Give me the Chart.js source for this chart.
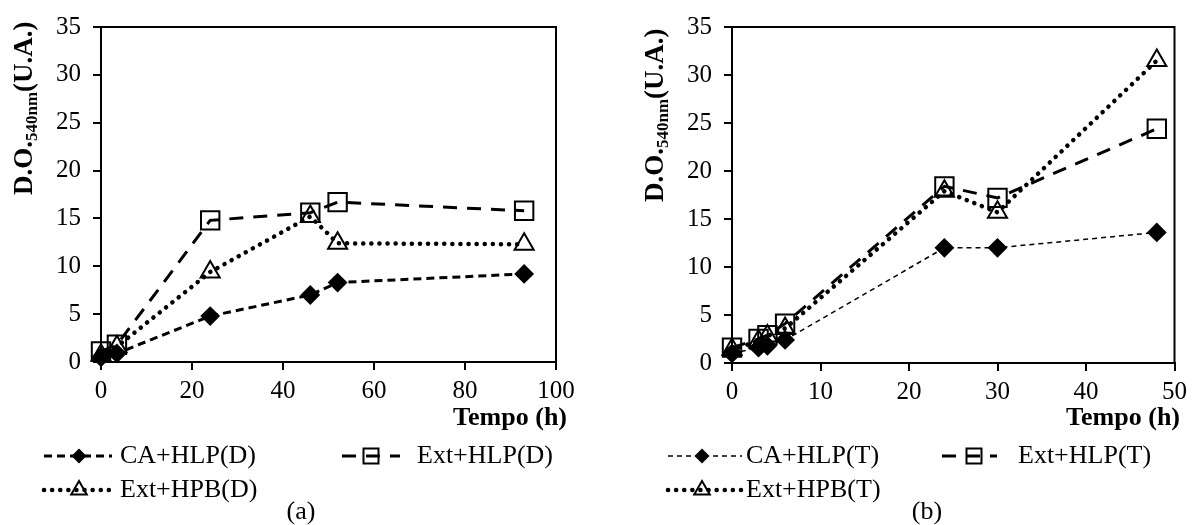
<!DOCTYPE html>
<html>
<head>
<meta charset="utf-8">
<script src="https://cdn.jsdelivr.net/npm/chart.js@4.4.1/dist/chart.umd.min.js"></script>
<style>
    html, body { margin: 0; padding: 0; background: #fff; }
    #wrap { position: relative; width: 1193px; height: 525px; }
    #chartA { position: absolute; left: 0; top: 0; }
    #chartB { position: absolute; left: 596px; top: 0; }
</style>
</head>
<body>
<div id="wrap">
    <canvas id="chartA" width="596" height="525"></canvas>
    <canvas id="chartB" width="597" height="525"></canvas>
</div>
<script>
// (a) tempo em horas e D.O. 540nm
const hoursA = [0, 3.5, 24, 46, 52, 93];
const caHlpD = [0.5, 0.9, 4.8, 7.0, 8.3, 9.2];
const extHlpD = [1.1, 1.8, 14.8, 15.6, 16.7, 15.8];
const extHpbD = [0.7, 1.6, 9.4, 15.2, 12.4, 12.3];

// (b)
const hoursB = [0, 3, 4, 6, 24, 30, 48];
const caHlpT = [1.0, 1.6, 1.8, 2.4, 12.0, 12.0, 13.6];
const extHlpT = [1.6, 2.5, 2.9, 4.1, 18.4, 17.2, 24.4];
const extHpbT = [1.4, 2.3, 2.8, 3.6, 17.9, 15.7, 31.5];

const yTicks = [0, 5, 10, 15, 20, 25, 30, 35];
const xTicksA = [0, 20, 40, 60, 80, 100];
const xTicksB = [0, 10, 20, 30, 40, 50];

const labelsA = ['CA+HLP(D)', 'Ext+HLP(D)', 'Ext+HPB(D)'];
const labelsB = ['CA+HLP(T)', 'Ext+HLP(T)', 'Ext+HPB(T)'];

const SERIF = '"Liberation Serif", "Times New Roman", serif';

function pts(xs, ys) {
    return xs.map((x, i) => ({ x: x, y: ys[i] }));
}

// line/marker look for each series
const look = {
    caD:  { dash: [8, 5], width: 3, cap: 'butt', marker: 'diamond' },
    caT:  { dash: [5, 4], width: 1.5, cap: 'butt', marker: 'diamond' },
    hlp:  { dash: [14, 10], width: 3, cap: 'butt', marker: 'square' },
    hpb:  { dash: [0.1, 8], width: 4.5, cap: 'round', marker: 'triangle' }
};

function dataset(label, data, lk) {
    const d = {
        label: label,
        data: data,
        borderColor: '#000',
        borderWidth: lk.width,
        borderDash: lk.dash,
        borderCapStyle: lk.cap,
        fill: false,
        tension: 0,
        clip: false,
        pointBorderColor: '#000',
        pointBorderWidth: 2
    };
    if (lk.marker === 'diamond') {
        d.pointStyle = 'rectRot';
        d.pointRadius = 8.5;
        d.pointBackgroundColor = '#000';
    } else if (lk.marker === 'square') {
        d.pointStyle = 'rect';
        d.pointRadius = 13;
        d.pointBackgroundColor = 'rgba(0,0,0,0)';
    } else {
        d.pointStyle = 'triangle';
        d.pointRadius = 11;
        d.pointBackgroundColor = 'rgba(0,0,0,0)';
    }
    return d;
}

function drawMarker(ctx, kind, x, y) {
    ctx.save();
    ctx.setLineDash([]);
    ctx.lineWidth = 2;
    ctx.strokeStyle = '#000';
    ctx.fillStyle = '#000';
    ctx.beginPath();
    if (kind === 'diamond') {
        const r = 7.5;
        ctx.moveTo(x - r, y); ctx.lineTo(x, y - r); ctx.lineTo(x + r, y); ctx.lineTo(x, y + r);
        ctx.closePath();
        ctx.fill();
    } else if (kind === 'square') {
        ctx.rect(x - 7.5, y - 7.5, 15, 15);
        ctx.stroke();
    } else {
        const r = 9;
        ctx.moveTo(x, y - r);
        ctx.lineTo(x + r * 0.866, y + r * 0.5);
        ctx.lineTo(x - r * 0.866, y + r * 0.5);
        ctx.closePath();
        ctx.stroke();
    }
    ctx.restore();
}

// box, axis titles, legend and caption
const deco = {
    id: 'deco',
    afterDraw(chart, args, o) {
        const ctx = chart.ctx;
        const a = chart.chartArea;
        ctx.save();
        ctx.strokeStyle = '#000';
        ctx.lineWidth = 2;
        ctx.beginPath();
        ctx.moveTo(a.left, a.top);
        ctx.lineTo(a.right, a.top);
        ctx.lineTo(a.right, a.bottom);
        ctx.stroke();

        // y title with subscript
        ctx.fillStyle = '#000';
        ctx.translate(o.yTitle.x, o.yTitle.y);
        ctx.rotate(-Math.PI / 2);
        ctx.textBaseline = 'alphabetic';
        ctx.textAlign = 'left';
        ctx.font = 'bold 27px ' + SERIF;
        ctx.fillText('D.O.', 0, 0);
        let w = ctx.measureText('D.O.').width;
        ctx.font = 'bold 17px ' + SERIF;
        ctx.fillText('540nm', w, 5);
        w += ctx.measureText('540nm').width;
        ctx.font = 'bold 27px ' + SERIF;
        ctx.fillText('(U.A.)', w, 0);
        ctx.restore();

        ctx.save();
        ctx.fillStyle = '#000';
        ctx.textBaseline = 'middle';
        ctx.textAlign = 'right';
        ctx.font = 'bold 26px ' + SERIF;
        ctx.fillText('Tempo (h)', o.xTitle.right, o.xTitle.y);

        ctx.textAlign = 'left';
        ctx.font = '26px ' + SERIF;
        o.legend.forEach(it => {
            ctx.save();
            ctx.strokeStyle = '#000';
            ctx.lineWidth = it.lk.width;
            ctx.lineCap = it.lk.cap;
            ctx.setLineDash(it.lk.dash);
            ctx.beginPath();
            ctx.moveTo(it.x1, it.y);
            ctx.lineTo(it.x2, it.y);
            ctx.stroke();
            ctx.restore();
            drawMarker(ctx, it.lk.marker, it.mx, it.y);
            ctx.fillText(it.text, it.tx, it.y);
        });

        ctx.textAlign = 'center';
        ctx.font = '26px ' + SERIF;
        ctx.fillText(o.caption.text, o.caption.x, o.caption.y);
        ctx.restore();
    }
};

function makeChart(id, sets, xMax, xStep, yWidth, xHeight, pad, decoOpts) {
    return new Chart(document.getElementById(id), {
        type: 'line',
        data: { datasets: sets },
        plugins: [deco],
        options: {
            responsive: false,
            animation: false,
            layout: { padding: pad },
            scales: {
                x: {
                    type: 'linear',
                    min: 0,
                    max: xMax,
                    afterFit: s => { s.height = xHeight; },
                    ticks: {
                        stepSize: xStep,
                        color: '#000',
                        padding: 6,
                        maxRotation: 0,
                        font: { family: SERIF, size: 25 }
                    },
                    grid: { drawOnChartArea: false, drawTicks: true, tickLength: 8, color: '#000', lineWidth: 2 },
                    border: { display: true, color: '#000', width: 2 }
                },
                y: {
                    type: 'linear',
                    min: yTicks[0],
                    max: yTicks[yTicks.length - 1],
                    afterFit: s => { s.width = yWidth; },
                    ticks: {
                        stepSize: 5,
                        color: '#000',
                        padding: 12,
                        font: { family: SERIF, size: 25 }
                    },
                    grid: { drawOnChartArea: false, drawTicks: true, tickLength: 8, color: '#000', lineWidth: 2 },
                    border: { display: true, color: '#000', width: 2 }
                }
            },
            plugins: {
                legend: { display: false },
                tooltip: { enabled: false },
                deco: decoOpts
            }
        }
    });
}

makeChart('chartA', [
    dataset(labelsA[0], pts(hoursA, caHlpD), look.caD),
    dataset(labelsA[1], pts(hoursA, extHlpD), look.hlp),
    dataset(labelsA[2], pts(hoursA, extHpbD), look.hpb)
], xTicksA[xTicksA.length - 1], 20, 101, 163, { left: 0, right: 40, top: 23, bottom: 0 }, {
    yTitle: { x: 32, y: 195 },
    xTitle: { right: 567, y: 418 },
    legend: [
        { text: labelsA[0], lk: look.caD, x1: 44, x2: 112, mx: 79, tx: 120, y: 456 },
        { text: labelsA[1], lk: look.hlp, x1: 342, x2: 400, mx: 371, tx: 417, y: 456 },
        { text: labelsA[2], lk: look.hpb, x1: 44, x2: 112, mx: 79, tx: 120, y: 490 }
    ],
    caption: { text: '(a)', x: 301, y: 512 }
});

makeChart('chartB', [
    dataset(labelsB[0], pts(hoursB, caHlpT), look.caT),
    dataset(labelsB[1], pts(hoursB, extHlpT), look.hlp),
    dataset(labelsB[2], pts(hoursB, extHpbT), look.hpb)
], xTicksB[xTicksB.length - 1], 10, 136, 162, { left: 0, right: 18, top: 18, bottom: 0 }, {
    yTitle: { x: 67, y: 202 },
    xTitle: { right: 584, y: 418 },
    legend: [
        { text: labelsB[0], lk: look.caT, x1: 72, x2: 146, mx: 106, tx: 150, y: 456 },
        { text: labelsB[1], lk: look.hlp, x1: 346, x2: 401, mx: 378, tx: 422, y: 456 },
        { text: labelsB[2], lk: look.hpb, x1: 72, x2: 146, mx: 106, tx: 150, y: 490 }
    ],
    caption: { text: '(b)', x: 331, y: 512 }
});
</script>
</body>
</html>
